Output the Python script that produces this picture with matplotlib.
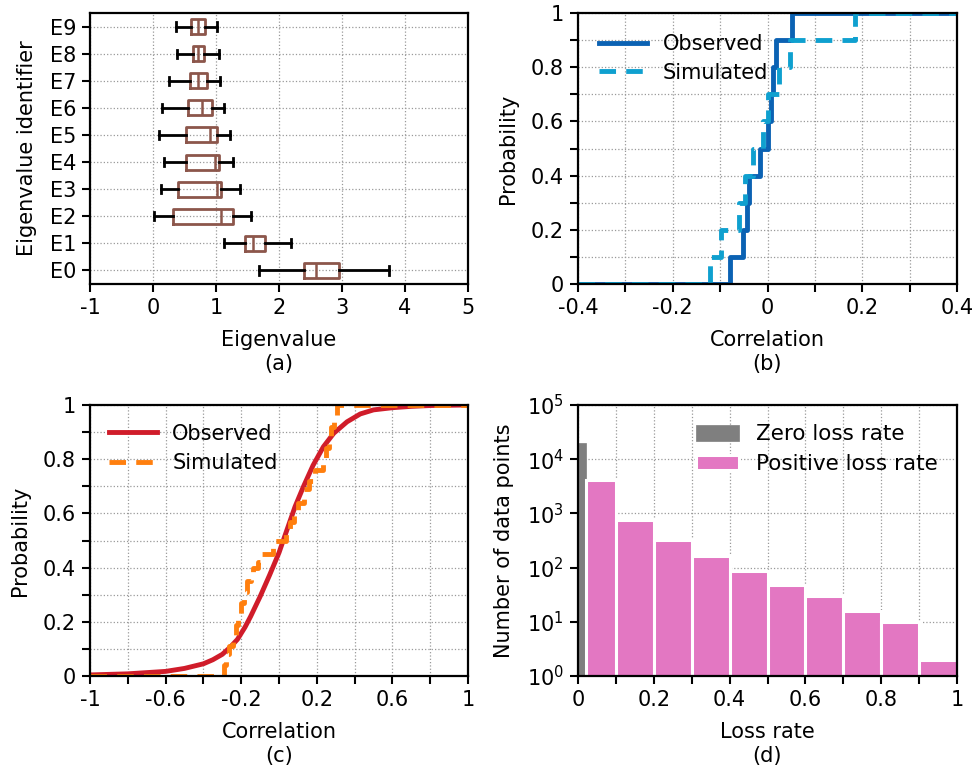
import matplotlib
matplotlib.use("Agg")
import matplotlib.pyplot as plt
import numpy as np

plt.rcParams['font.family'] = ['DejaVu Sans']
plt.rcParams['font.size'] = 15
plt.rcParams['axes.unicode_minus'] = False

# ---------------- data ----------------
# (a) eigenvalue box plots
eig_labels = ["E0", "E1", "E2", "E3", "E4", "E5", "E6", "E7", "E8", "E9"]
eig_whislo = [1.68, 1.13, 0.01, 0.12, 0.18, 0.09, 0.14, 0.26, 0.38, 0.37]
eig_q1     = [2.39, 1.46, 0.31, 0.40, 0.52, 0.52, 0.56, 0.58, 0.63, 0.60]
eig_med    = [2.59, 1.59, 1.08, 1.02, 0.98, 0.90, 0.78, 0.71, 0.72, 0.72]
eig_q3     = [2.95, 1.78, 1.27, 1.08, 1.04, 1.01, 0.94, 0.85, 0.81, 0.82]
eig_whishi = [3.75, 2.19, 1.56, 1.38, 1.27, 1.22, 1.13, 1.06, 1.05, 1.01]

# (b) empirical CDF of correlation (step positions)
cdf_levels_b = [0.1, 0.2, 0.3, 0.4, 0.5, 0.6, 0.7, 0.8, 0.9, 1.0]
obs_b = [-0.079, -0.052, -0.044, -0.038, -0.016, 0.000, 0.007, 0.0125, 0.018, 0.051]
sim_b = [-0.121, -0.099, -0.061, -0.047, -0.030, -0.009, 0.002, 0.025, 0.048, 0.185]

# (c) CDF of correlation
obs_c_x = [-1.0, -0.8, -0.6, -0.5, -0.4, -0.35, -0.3, -0.26, -0.22, -0.18,
           -0.15, -0.1, -0.05, 0.0, 0.04, 0.085, 0.13, 0.18, 0.235, 0.29,
           0.36, 0.43, 0.5, 0.6, 0.7, 0.8, 1.0]
obs_c_y = [0.004, 0.008, 0.017, 0.028, 0.045, 0.06, 0.08, 0.105, 0.135, 0.18,
           0.22, 0.293, 0.372, 0.455, 0.535, 0.625, 0.70, 0.777, 0.846, 0.896,
           0.938, 0.967, 0.982, 0.99, 0.995, 0.998, 1.0]
sim_c_x = [-0.29, -0.28, -0.265, -0.245, -0.23, -0.215, -0.2, -0.185, -0.17, -0.15,
           -0.135, -0.11, -0.09, -0.03, 0.035, 0.06, 0.08, 0.1, 0.13, 0.16,
           0.19, 0.235, 0.25, 0.265, 0.275, 0.29, 0.305]
sim_c_y = [0.04, 0.08, 0.11, 0.15, 0.19, 0.23, 0.27, 0.31, 0.35, 0.38,
           0.40, 0.42, 0.45, 0.50, 0.53, 0.57, 0.61, 0.64, 0.69, 0.72,
           0.76, 0.80, 0.84, 0.88, 0.92, 0.96, 1.0]

# (d) loss-rate histogram
zero_loss_count = 20000
loss_bin_edges = [0.02, 0.1, 0.2, 0.3, 0.4, 0.5, 0.6, 0.7, 0.8, 0.9, 1.0]
loss_counts = [4100, 766, 327, 162, 88, 48, 29.5, 16, 10, 2]

# ---------------- style helpers ----------------
C_BOX = '#8c564b'
C_OBS_B = '#0b62b3'
C_SIM_B = '#0fa0cf'
C_OBS_C = '#d01c2a'
C_SIM_C = '#ff7f0e'
C_GRAY = '#7f7f7f'
C_PINK = '#e377c2'
LW = 3.5

fig = plt.figure(figsize=(9.73, 7.70), dpi=100)
W, H = 973.0, 770.0

def add_axes(x0, y0, x1, y1):
    return fig.add_axes([x0 / W, 1 - y1 / H, (x1 - x0) / W, (y1 - y0) / H])

def style(ax):
    for s in ax.spines.values():
        s.set_linewidth(1.6)
    ax.tick_params(direction='out', length=6, width=1.5, labelsize=15, pad=4)
    ax.grid(True, linestyle=':', color='#999999', linewidth=0.9)
    ax.set_axisbelow(True)

LP = 9

axa = add_axes(90, 13, 468, 284)
axb = add_axes(578, 13, 957, 284)
axc = add_axes(90, 405, 468, 676)
axd = add_axes(578, 405, 957, 676)

# ---------------- (a) ----------------
stats = []
for i in range(len(eig_labels)):
    stats.append(dict(whislo=eig_whislo[i], q1=eig_q1[i], med=eig_med[i],
                      q3=eig_q3[i], whishi=eig_whishi[i], fliers=[]))
pos = np.arange(len(eig_labels))
axa.bxp(stats, positions=pos, vert=False, widths=0.55, showfliers=False,
        boxprops=dict(color=C_BOX, linewidth=2),
        medianprops=dict(color=C_BOX, linewidth=1.8),
        whiskerprops=dict(color='black', linewidth=2),
        capprops=dict(color='black', linewidth=2),
        capwidths=0.3, manage_ticks=False)
axa.set_yticks(pos)
axa.set_yticklabels(eig_labels)
axa.set_ylim(-0.5, 9.5)
axa.set_xlim(-1, 5)
axa.set_xticks(np.arange(-1, 6))
axa.set_xticklabels(['-1', '0', '1', '2', '3', '4', '5'])
style(axa)
axa.set_xlabel("Eigenvalue\n(a)", linespacing=1.2, labelpad=LP)
axa.set_ylabel("Eigenvalue identifier", labelpad=LP)

# ---------------- (b) ----------------
xb_o = [-0.4] + obs_b + [0.4]
yb_o = [0.0] + cdf_levels_b + [1.0]
xb_s = [-0.4] + sim_b + [0.4]
yb_s = [0.0] + cdf_levels_b + [1.0]
axb.step(xb_o, yb_o, where='post', color=C_OBS_B, linewidth=LW, label='Observed')
axb.step(xb_s, yb_s, where='post', color=C_SIM_B, linewidth=LW, dashes=(3.4, 2.1),
         label='Simulated')
axb.set_xlim(-0.4, 0.4)
axb.set_ylim(0, 1)
xt = np.round(np.arange(-0.4, 0.41, 0.1), 2)
axb.set_xticks(xt)
axb.set_xticklabels(['-0.4', '', '-0.2', '', '0', '', '0.2', '', '0.4'])
yt = np.round(np.arange(0, 1.01, 0.1), 2)
axb.set_yticks(yt)
axb.set_yticklabels(['0', '', '0.2', '', '0.4', '', '0.6', '', '0.8', '', '1'])
style(axb)
axb.set_xlabel("Correlation\n(b)", linespacing=1.2, labelpad=LP)
axb.set_ylabel("Probability", labelpad=LP)
axb.legend(loc='upper left', frameon=False, fontsize=15, handlelength=2.3,
           borderaxespad=0.6, labelspacing=0.42, handletextpad=0.75)

# ---------------- (c) ----------------
axc.plot(obs_c_x, obs_c_y, color=C_OBS_C, linewidth=LW, label='Observed',
         solid_joinstyle='round')
xc_s = [-1.0] + sim_c_x + [1.0]
yc_s = [0.0] + sim_c_y + [1.0]
axc.step(xc_s, yc_s, where='post', color=C_SIM_C, linewidth=LW, dashes=(3.4, 2.1),
         label='Simulated')
axc.set_xlim(-1, 1)
axc.set_ylim(0, 1)
xt = np.round(np.arange(-1, 1.01, 0.2), 2)
axc.set_xticks(xt)
axc.set_xticklabels(['-1', '', '-0.6', '', '-0.2', '', '0.2', '', '0.6', '', '1'])
axc.set_yticks(yt)
axc.set_yticklabels(['0', '', '0.2', '', '0.4', '', '0.6', '', '0.8', '', '1'])
style(axc)
axc.set_xlabel("Correlation\n(c)", linespacing=1.2, labelpad=LP)
axc.set_ylabel("Probability", labelpad=LP)
axc.legend(loc='upper left', frameon=False, fontsize=15, handlelength=2.3,
           borderaxespad=0.5, labelspacing=0.45, handletextpad=0.75)

# ---------------- (d) ----------------
axd.set_yscale('log')
axd.bar(0.0, zero_loss_count, width=loss_bin_edges[0], align='edge',
        color=C_GRAY, edgecolor=C_GRAY, linewidth=0.5, label='Zero loss rate')
lefts = loss_bin_edges[:-1]
widths = np.diff(loss_bin_edges)
axd.bar(lefts, loss_counts, width=widths, align='edge', color=C_PINK,
        edgecolor='white', linewidth=2.2, label='Positive loss rate')
axd.set_xlim(0, 1)
axd.set_ylim(1, 1e5)
xt = np.round(np.arange(0, 1.01, 0.1), 2)
axd.set_xticks(xt)
axd.set_xticklabels(['0', '', '0.2', '', '0.4', '', '0.6', '', '0.8', '', '1'])
axd.set_yticks([1, 10, 100, 1e3, 1e4, 1e5])
axd.minorticks_off()
style(axd)
axd.grid(True, which='major', linestyle=':', color='#999999', linewidth=0.9)
axd.set_xlabel("Loss rate\n(d)", linespacing=1.2, labelpad=LP)
axd.set_ylabel("Number of data points", labelpad=LP)
axd.legend(loc='upper right', frameon=False, fontsize=15.5, handlelength=2.0,
           handleheight=0.75, borderaxespad=0.5, labelspacing=0.45, handletextpad=0.8)

fig.savefig("out.png", dpi=100)
